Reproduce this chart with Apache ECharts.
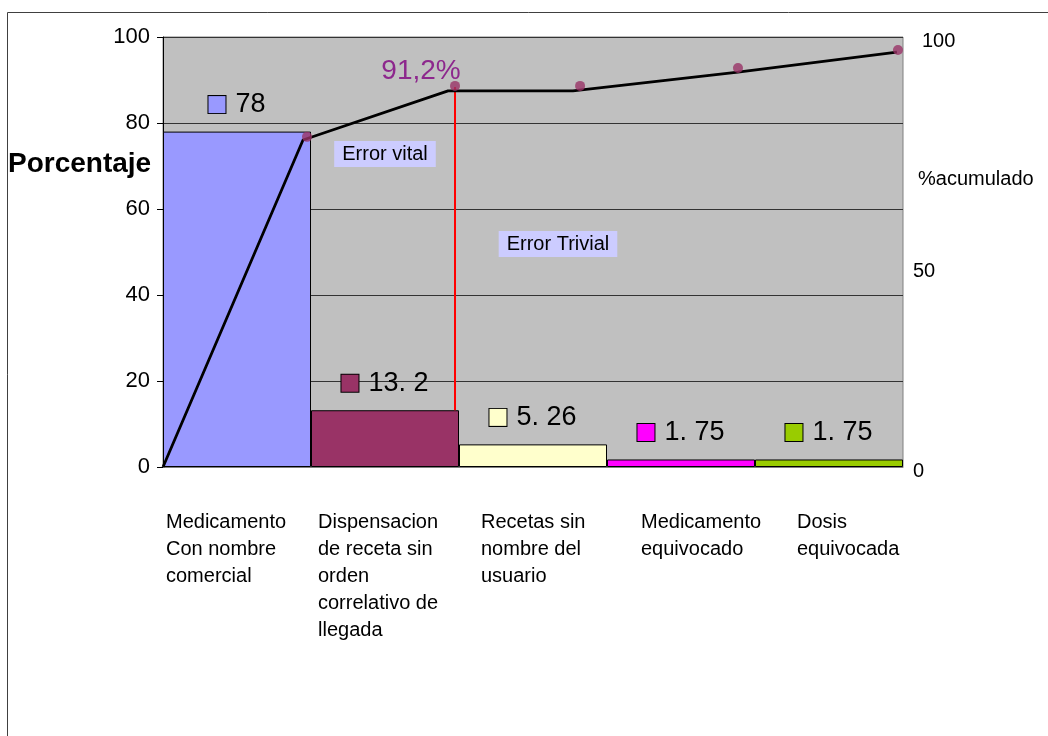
<!DOCTYPE html>
<html>
<head>
<meta charset="utf-8">
<title>Pareto de errores</title>
<script src="https://cdn.jsdelivr.net/npm/echarts@6/dist/echarts.min.js"></script>
<style>
  html, body { margin: 0; padding: 0; background: #ffffff; }
  #chart { width: 1048px; height: 736px; }
</style>
</head>
<body>
<div id="chart"></div>
<script>
// Error categories (x axis)
const categories = [
  'Medicamento\nCon nombre\ncomercial',
  'Dispensacion\nde receta sin\norden\ncorrelativo de\nllegada',
  'Recetas sin\nnombre del\nusuario',
  'Medicamento\nequivocado',
  'Dosis\nequivocada'
];
// Percentage of each error type
const percentages = [78, 13.2, 5.26, 1.75, 1.75];
// Bar fill colours, one per category
const barColors = ['#9999FF', '#993366', '#FFFFCC', '#FF00FF', '#99CC00'];

// Cumulative percentage curve, [category position, %acumulado]
const cumulativeLine = [[0, 0], [0.946, 78.25], [1.926, 90.0], [2.77, 90.0], [3.885, 94.5], [4.959, 99.3]];
// Cumulative percentage markers, [category position, %acumulado]
const cumulativeMarks = [[0.973, 79.0], [1.973, 91.2], [2.818, 91.2], [3.885, 95.5], [4.966, 99.8]];
// Vital / trivial separator, [category position, porcentaje]
const vitalSplit = [[1.973, 13.2], [1.973, 88.4]];

// Left axis range and right axis text
const leftAxisMax = 100;
const leftAxisStep = 20;
const rightAxisMax = 102.9;
const rightAxisLabels = ['100', '%acumulado', '50', '0'];

const FONT = 'Liberation Sans, Arial, sans-serif';

// Category label offsets so each wrapped block starts where Excel put it
const labelPad = [8, 16, 46, 70, 86];
const catRich = {};
labelPad.forEach((p, i) => {
  catRich['c' + i] = { width: 150, align: 'left', padding: [0, 0, 0, p], fontSize: 20, lineHeight: 27, color: '#000', fontFamily: FONT };
});

// Bar value labels: coloured key square followed by the value
const barRich = { g: { width: 10 }, v: { fontSize: 27, lineHeight: 30, color: '#000', fontFamily: FONT } };
barColors.forEach((c, i) => {
  barRich['s' + i] = { width: 17, height: 17, backgroundColor: c, borderColor: '#000', borderWidth: 1 };
});

const chart = echarts.init(document.getElementById('chart'), null, { renderer: 'canvas' });

const option = {
  backgroundColor: '#ffffff',
  animation: false,
  textStyle: { fontFamily: FONT },
  grid: {
    left: 163, right: 145, top: 37, bottom: 269,
    show: true, backgroundColor: '#C0C0C0', borderColor: '#808080', borderWidth: 1,
    containLabel: false, outerBoundsMode: 'none'
  },
  xAxis: [
    {
      type: 'category',
      data: categories,
      boundaryGap: true,
      axisLine: { lineStyle: { color: '#808080', width: 1 } },
      axisTick: { show: false },
      axisLabel: {
        interval: 0, margin: 42,
        formatter: (val, idx) => '{c' + idx + '|' + val + '}',
        rich: catRich
      }
    },
    { type: 'value', min: 0, max: categories.length, show: false }
  ],
  yAxis: [
    {
      type: 'value', min: 0, max: leftAxisMax, interval: leftAxisStep,
      axisLine: { show: true, lineStyle: { color: '#000', width: 1 } },
      axisTick: { show: true, length: 6, lineStyle: { color: '#000' } },
      axisLabel: { margin: 13, fontSize: 22, color: '#000', fontFamily: FONT },
      splitLine: { show: true, lineStyle: { color: '#333', width: 1 } }
    },
    { type: 'value', min: 0, max: rightAxisMax, show: false, splitLine: { show: false } }
  ],
  series: [
    {
      name: 'Porcentaje',
      type: 'bar',
      xAxisIndex: 0, yAxisIndex: 0,
      barCategoryGap: '0%',
      data: percentages.map((v, i) => ({ value: v, itemStyle: { color: barColors[i] } })),
      itemStyle: { borderColor: '#000', borderWidth: 1 },
      label: {
        show: true, position: 'top', distance: 12,
        formatter: (p) => '{s' + p.dataIndex + '|}{g|}{v|' + String(p.value).replace('.', '. ') + '}',
        rich: barRich
      },
      z: 2
    },
    {
      name: 'Separador',
      type: 'line',
      xAxisIndex: 1, yAxisIndex: 0,
      data: vitalSplit,
      symbol: 'none',
      lineStyle: { color: '#FF0000', width: 2 },
      z: 3
    },
    {
      name: '%acumulado',
      type: 'line',
      xAxisIndex: 1, yAxisIndex: 1,
      data: cumulativeLine,
      symbol: 'none',
      lineStyle: { color: '#000', width: 2.8 },
      z: 4
    },
    {
      name: '%acumulado puntos',
      type: 'scatter',
      xAxisIndex: 1, yAxisIndex: 1,
      data: cumulativeMarks.map((d, i) => i === 1 ? {
        value: d,
        label: {
          show: true, position: 'top', distance: 0, offset: [-34, 4],
          formatter: (p) => p.value[1].toFixed(1).replace('.', ',') + '%',
          color: '#800080', fontSize: 28, fontFamily: FONT
        }
      } : d),
      symbol: 'circle', symbolSize: 10,
      itemStyle: { color: '#993366' },
      z: 5
    }
  ],
  graphic: [
    { type: 'rect', silent: true, shape: { x: 7.5, y: 12.5, width: 1100, height: 800 }, style: { fill: 'none', stroke: '#404040', lineWidth: 1 } },
    { type: 'text', x: 8, y: 164, style: { text: 'Porcentaje', font: 'bold 28px ' + FONT, fill: '#000', verticalAlign: 'middle' } },
    { type: 'text', x: 385, y: 154, z: 10, style: { text: 'Error vital', font: '20px ' + FONT, fill: '#000', align: 'center', verticalAlign: 'middle', backgroundColor: '#CCCCFF', padding: [3, 8] } },
    { type: 'text', x: 558, y: 244, z: 10, style: { text: 'Error Trivial', font: '20px ' + FONT, fill: '#000', align: 'center', verticalAlign: 'middle', backgroundColor: '#CCCCFF', padding: [3, 8] } },
    { type: 'text', x: 922, y: 41, style: { text: rightAxisLabels[0], font: '20px ' + FONT, fill: '#000', verticalAlign: 'middle' } },
    { type: 'text', x: 918, y: 179, style: { text: rightAxisLabels[1], font: '20px ' + FONT, fill: '#000', verticalAlign: 'middle' } },
    { type: 'text', x: 913, y: 271, style: { text: rightAxisLabels[2], font: '20px ' + FONT, fill: '#000', verticalAlign: 'middle' } },
    { type: 'text', x: 913, y: 471, style: { text: rightAxisLabels[3], font: '20px ' + FONT, fill: '#000', verticalAlign: 'middle' } }
  ]
};

chart.setOption(option);
</script>
</body>
</html>
